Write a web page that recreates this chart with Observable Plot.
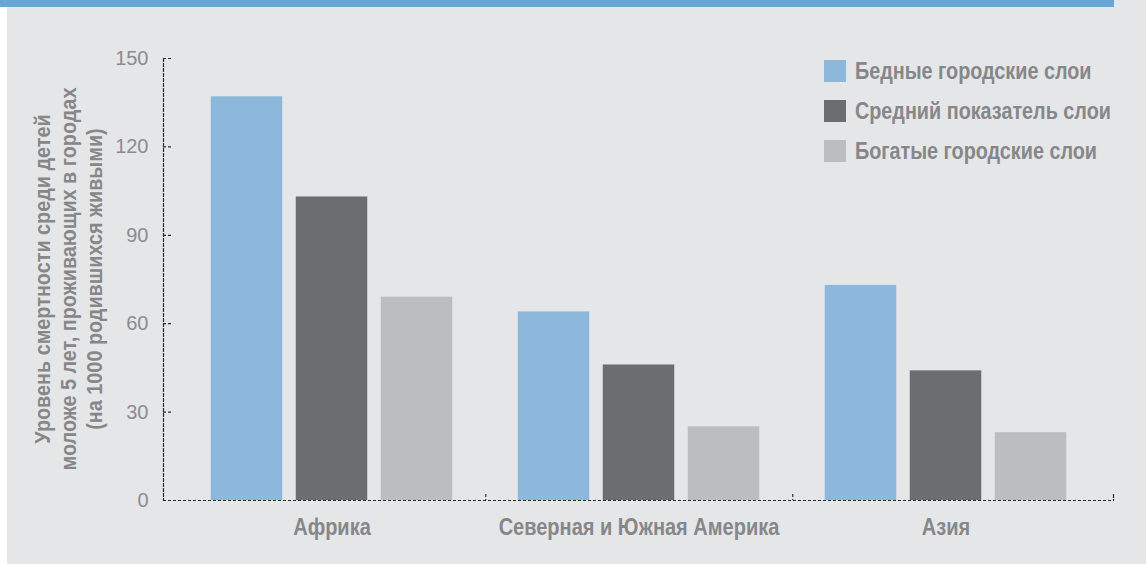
<!DOCTYPE html>
<html>
<head>
<meta charset="utf-8">
<script src="https://cdn.jsdelivr.net/npm/d3@7"></script>
<script src="https://cdn.jsdelivr.net/npm/@observablehq/plot@0.6"></script>
<style>
  html, body { margin: 0; padding: 0; background: #ffffff; }
  body { width: 1146px; height: 564px; overflow: hidden; position: relative;
         font-family: "Liberation Sans", Arial, sans-serif; }
  #panel { position: absolute; left: 7px; top: 0; width: 1139px; height: 564px; background: #e5e6e8; }
  #band { position: absolute; left: 0; top: 0; width: 1114px; height: 7px; background: #67a7d5; }
  #chart { position: absolute; left: 0; top: 0; }
  #ytitle { position: absolute; left: -171px; top: 240px; width: 480px; height: 78px;
            transform: rotate(-90deg) scaleX(0.9); transform-origin: 50% 50%; white-space: nowrap;
            text-align: center; font-weight: bold; font-size: 22px; line-height: 26px; color: #868789; }
  #legend { position: absolute; left: 824px; top: 60px; }
  .item { display: flex; align-items: center; height: 22px; margin-bottom: 18px; }
  .sw { width: 22px; height: 22px; margin-right: 9px; flex: none; }
  .lab { font-weight: bold; font-size: 23px; color: #868789; white-space: nowrap;
         transform: scaleX(0.86); transform-origin: 0 50%; }
</style>
</head>
<body>
<div id="panel"></div>
<div id="band"></div>
<div id="chart"></div>
<div id="ytitle">Уровень смертности среди детей<br>моложе 5 лет, проживающих в городах<br>(на 1000 родившихся живыми)</div>
<div id="legend"></div>
<script>
// ---- data ----
const regions = ["Африка", "Северная и Южная Америка", "Азия"];
const series = ["Бедные городские слои", "Средний показатель слои", "Богатые городские слои"];
const poorValues = [137, 64, 73];
const averageValues = [103, 46, 44];
const richValues = [69, 25, 23];
const seriesColors = ["#8db8dc", "#6c6d71", "#bcbdc0"];
const yTicks = [0, 30, 60, 90, 120, 150];

const valueLists = [poorValues, averageValues, richValues];
const rows = [];
series.forEach((s, j) => regions.forEach((r, i) => rows.push({region: r, series: s, value: valueLists[j][i]})));

// ---- layout ----
const W = 1146, H = 564, mL = 163, mR = 33, mT = 58, mB = 64;
const plotW = W - mL - mR, plotH = H - mT - mB;
const padOuter = 0.0447;
const step = plotW / (regions.length + 2 * padOuter);
const barW = 72, barStep = 85;
const inset = (step - barW) / 2;
const dash = {stroke: "#2a2a2a", strokeWidth: 1.2, strokeDasharray: "3,2"};

const chart = Plot.plot({
  width: W, height: H,
  marginLeft: mL, marginRight: mR, marginTop: mT, marginBottom: mB,
  style: {background: "transparent", overflow: "visible"},
  x: {domain: regions, paddingInner: 0, paddingOuter: padOuter, axis: null, label: null},
  y: {domain: [0, 150], axis: null, label: null},
  marks: [
    ...series.map((s, j) => Plot.barY(rows.filter(d => d.series === s), {
      x: "region", y: "value", fill: seriesColors[j],
      insetLeft: inset, insetRight: inset, dx: (j - 1) * barStep
    })),
    Plot.ruleY([0], dash),
    Plot.frame({anchor: "left", ...dash}),
    Plot.ruleX(regions.slice(0, regions.length - 1), {x: d => d, dx: step / 2, insetTop: plotH - 6, ...dash}),
    Plot.frame({anchor: "right", insetTop: plotH - 6, ...dash}),
    Plot.tickY(yTicks, {y: d => d, insetRight: plotW - 8, ...dash}),
    Plot.axisX({label: null, tickSize: 0, tickPadding: 18, fontSize: 23, fontWeight: "bold", fill: "#868789",
      fontFamily: "'Liberation Sans', Arial, sans-serif"}),
    Plot.axisY({label: null, ticks: yTicks, tickSize: 0, tickPadding: 15, fontSize: 20, fill: "#8c8c8e",
      fontFamily: "'Liberation Sans', Arial, sans-serif"})
  ]
});
// condense the bold category labels horizontally (narrow typeface look)
chart.querySelectorAll('g[aria-label="x-axis tick label"] text').forEach(t => {
  const tr = t.getAttribute("transform") || "";
  t.setAttribute("transform", (tr + " scale(0.87,1)").trim());
});
document.getElementById("chart").appendChild(chart);

const legend = document.getElementById("legend");
series.forEach((s, j) => {
  const item = document.createElement("div");
  item.className = "item";
  item.innerHTML = `<div class="sw" style="background:${seriesColors[j]}"></div><div class="lab">${s}</div>`;
  legend.appendChild(item);
});
</script>
</body>
</html>
